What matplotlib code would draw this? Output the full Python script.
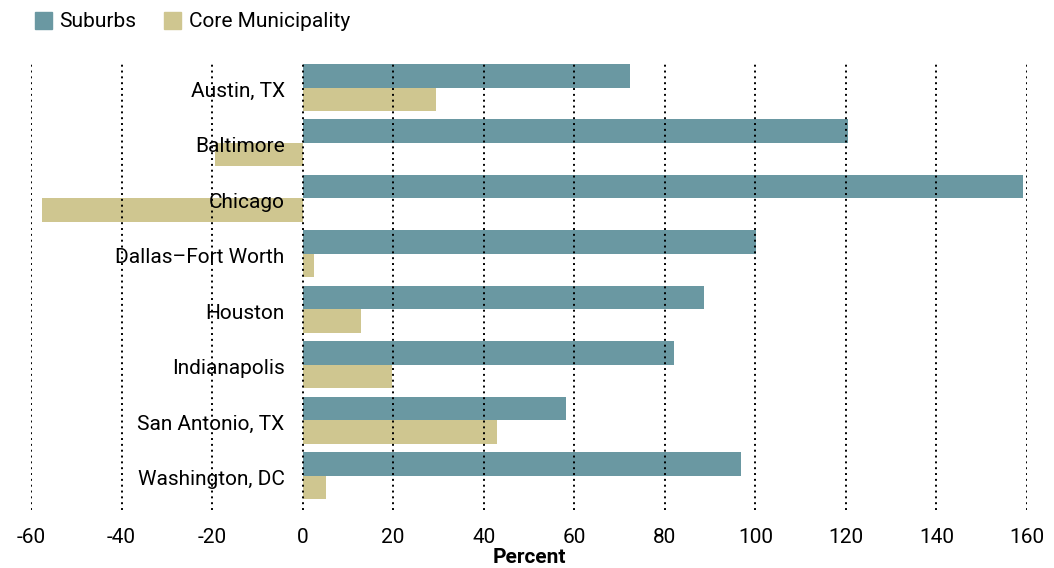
import numpy as np
import matplotlib.pyplot as plt
from matplotlib.patches import Patch

plt.rcParams['font.family'] = ['Roboto', 'DejaVu Sans']

cities = ['Austin, TX', 'Baltimore', 'Chicago', 'Dallas–Fort Worth',
          'Houston', 'Indianapolis', 'San Antonio, TX', 'Washington, DC']
suburbs = [72.3, 120.4, 159.1, 100.1, 88.6, 82.0, 58.1, 96.8]
core = [29.4, -19.4, -57.5, 2.4, 12.8, 19.7, 42.9, 5.1]
xticks = [-60, -40, -20, 0, 20, 40, 60, 80, 100, 120, 140, 160]

sub_color = '#6a98a2'
core_color = '#cfc690'
FS = 15


def main():
    fig = plt.figure(figsize=(10.54, 5.68), dpi=100)
    ax = fig.add_axes([31 / 1054, 1 - 510 / 568, (1027 - 31) / 1054, (510 - 62) / 568])

    y = np.arange(len(cities))
    h = 0.424
    ax.barh(y - h / 2, suburbs, height=h, color=sub_color, zorder=2)
    ax.barh(y + h / 2, core, height=h, color=core_color, zorder=2)

    # dotted gridlines drawn over the bars
    for t in xticks:
        ax.axvline(t, color='black', lw=1.4, linestyle=(0, (1, 2)), zorder=3)

    ax.set_xlim(-60, 160)
    ax.set_ylim(7.62, -0.46)
    ax.set_xticks(xticks)
    ax.set_xticklabels([str(t) for t in xticks], fontsize=FS)
    ax.tick_params(axis='x', length=0, pad=13)
    ax.set_yticks([])
    for s in ax.spines.values():
        s.set_visible(False)

    # category labels sit just left of zero, on top of everything
    for yi, name in zip(y, cities):
        ax.annotate(name, xy=(0, yi), xytext=(-18, -2), textcoords='offset pixels',
                    ha='right', va='center_baseline', fontsize=FS, zorder=5)

    ax.set_xlabel('Percent', fontsize=FS, fontweight='bold', labelpad=1)

    handles = [Patch(color=sub_color, label='Suburbs'),
               Patch(color=core_color, label='Core Municipality')]
    fig.legend(handles=handles, loc='upper left', bbox_to_anchor=(0.015, 1.012),
               ncol=2, frameon=False, prop={'size': FS},
               handlelength=0.85, handleheight=0.85, handletextpad=0.35,
               columnspacing=1.3)

    fig.savefig('out.png', dpi=100)


if __name__ == "__main__":
    main()
